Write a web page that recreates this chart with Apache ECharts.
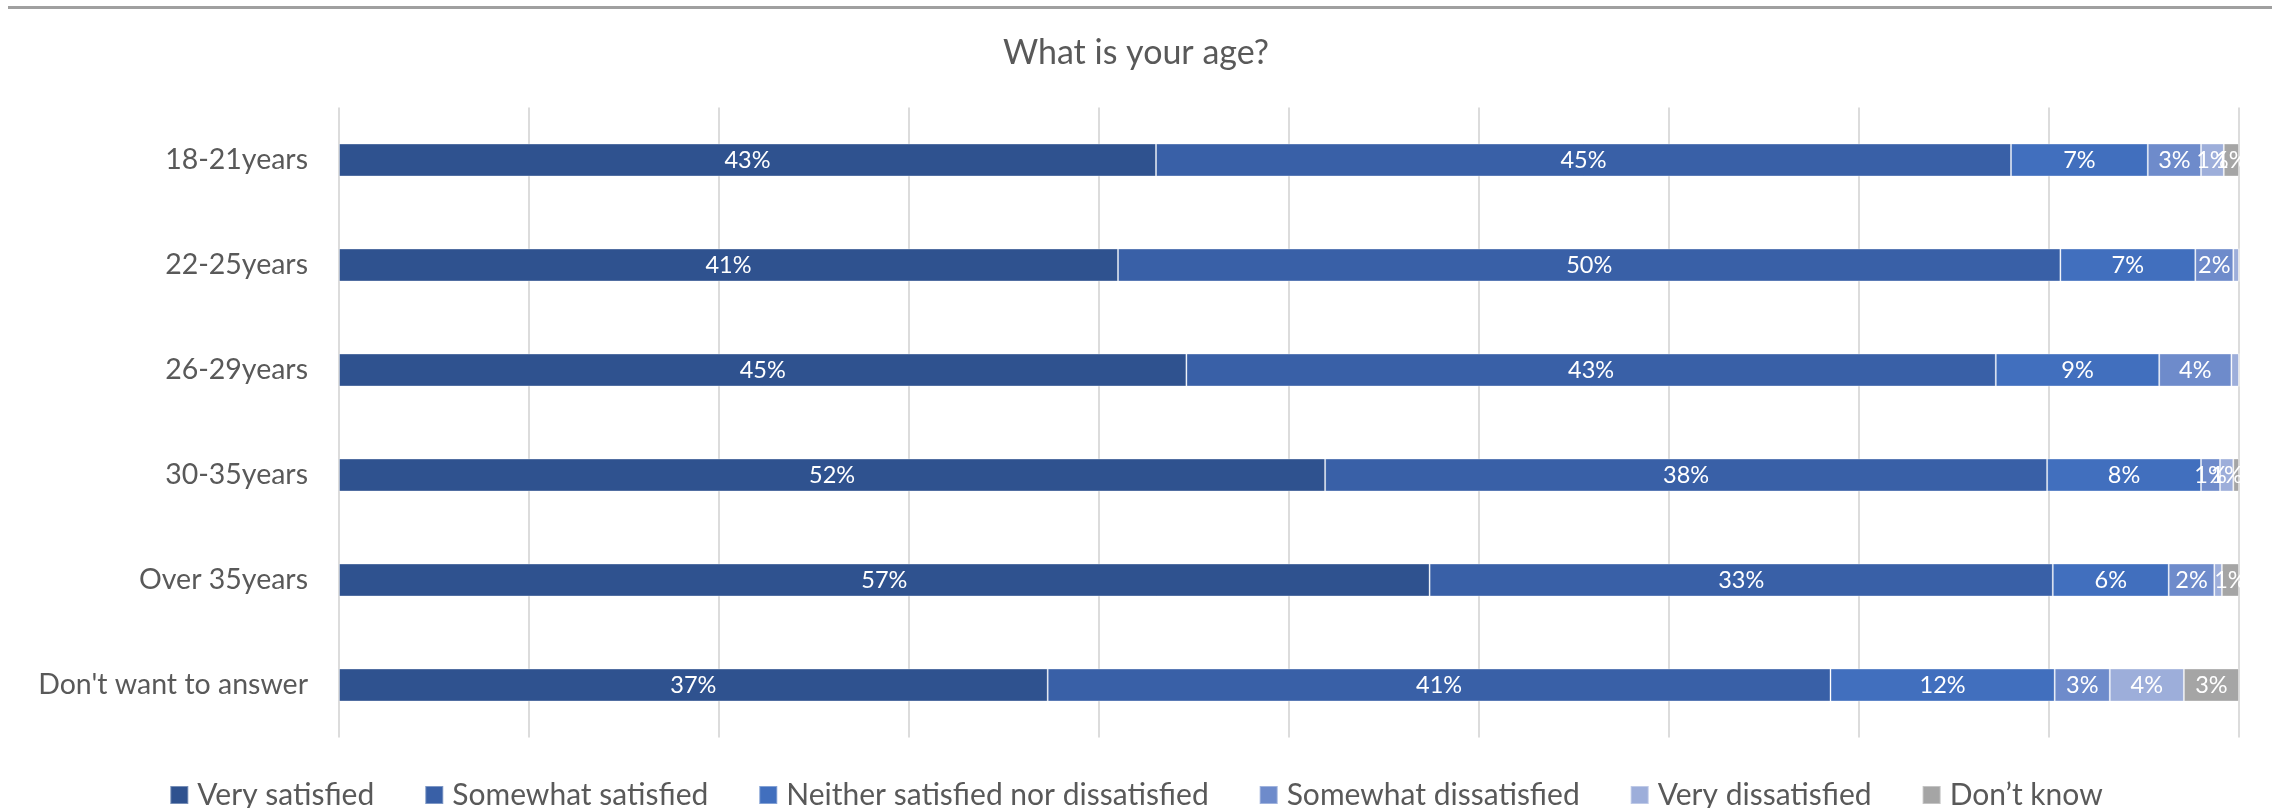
<!DOCTYPE html>
<html>
<head>
<meta charset="utf-8">
<style>
  html, body { margin: 0; padding: 0; background: #ffffff; }
  #chart { width: 2272px; height: 808px; }
</style>
<script src="https://cdn.jsdelivr.net/npm/echarts@6/dist/echarts.min.js"></script>
</head>
<body>
<div id="chart"></div>
<script>
// Age groups (top to bottom)
const categories = ['18-21years', '22-25years', '26-29years', '30-35years', 'Over 35years', "Don't want to answer"];

// Share of respondents (%) per satisfaction level, one value per age group
const verySatisfied        = [43.0, 41.0, 44.6, 51.9, 57.4, 37.3];
const somewhatSatisfied    = [45.0, 49.6, 42.6, 38.0, 32.8, 41.2];
const neither              = [7.2, 7.1, 8.6, 8.1, 6.1, 11.8];
const somewhatDissatisfied = [2.8, 2.0, 3.8, 1.0, 2.4, 2.9];
const veryDissatisfied     = [1.2, 0.3, 0.4, 0.7, 0.4, 3.9];
const dontKnow             = [0.8, 0.0, 0.0, 0.3, 0.9, 2.9];

const seriesNames = ['Very satisfied', 'Somewhat satisfied', 'Neither satisfied nor dissatisfied',
                     'Somewhat dissatisfied', 'Very dissatisfied', 'Don\u2019t know'];
const seriesValues = [verySatisfied, somewhatSatisfied, neither, somewhatDissatisfied, veryDissatisfied, dontKnow];
const seriesColors = ['#2F528F', '#3960A7', '#416FBE', '#6E8BCB', '#9DAEDA', '#A5A5A5'];

const FONT = 'Lato, "Open Sans", sans-serif';
const TEXT = '#595959';

const chart = echarts.init(document.getElementById('chart'), null, { renderer: 'canvas' });

const series = seriesNames.map((name, i) => ({
  name: name,
  type: 'bar',
  stack: 'total',
  barWidth: 33,
  data: seriesValues[i],
  itemStyle: { color: seriesColors[i], borderColor: 'rgba(255,255,255,0.35)', borderWidth: 1 },
  label: {
    show: true,
    position: 'inside',
    color: '#ffffff',
    fontFamily: FONT,
    fontSize: 23.5,
    formatter: p => (p.value >= 0.5 ? Math.round(p.value) + '%' : '')
  },
  emphasis: { disabled: true }
}));

chart.setOption({
  animation: false,
  backgroundColor: '#ffffff',
  title: {
    text: 'What is your age?',
    left: 'center',
    top: 31,
    textStyle: { fontFamily: FONT, fontSize: 34, fontWeight: 'normal', color: TEXT }
  },
  legend: {
    top: 775,
    left: 'center',
    itemWidth: 18,
    itemHeight: 18,
    itemGap: 50,
    icon: 'rect',
    textStyle: { fontFamily: FONT, fontSize: 30, color: TEXT, padding: [0, 0, 0, 4] },
    data: seriesNames
  },
  grid: { left: 339, right: 33, top: 107.5, bottom: 70.5, containLabel: false },
  xAxis: {
    type: 'value',
    min: 0,
    max: 100,
    interval: 10,
    axisLabel: { show: false },
    axisLine: { show: false },
    axisTick: { show: false },
    splitLine: { show: true, lineStyle: { color: '#DCDCDC', width: 2 } }
  },
  yAxis: {
    type: 'category',
    inverse: true,
    data: categories,
    axisLine: { show: false },
    axisTick: { show: false },
    axisLabel: { margin: 31, fontFamily: FONT, fontSize: 28.5, color: TEXT }
  },
  graphic: [{
    type: 'rect',
    shape: { x: 8, y: 6, width: 2264, height: 3 },
    style: { fill: '#A0A0A0' },
    silent: true
  }],
  series: series
});
</script>
</body>
</html>
